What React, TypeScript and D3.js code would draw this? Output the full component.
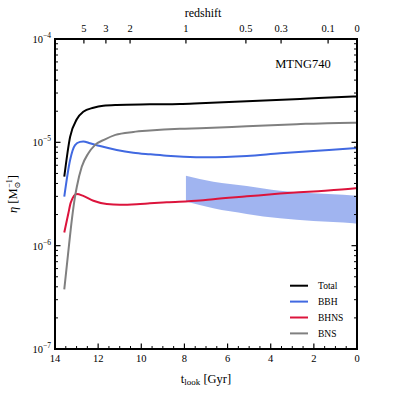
import React from 'react';
import * as d3 from 'd3';

// lookback time [Gyr] and efficiency eta [Msun^-1]
const tTotal = [13.57, 13.3, 12.99, 12.69, 12.22, 11.76, 11.14, 9.6, 8.21, 7.28, 5.11, 2.64, 0.18, 0];
const etaTotal = [4.65e-6, 1.13e-5, 1.67e-5, 1.98e-5, 2.16e-5, 2.26e-5, 2.3e-5, 2.33e-5, 2.35e-5, 2.39e-5, 2.5e-5, 2.63e-5, 2.77e-5, 2.78e-5];

const tBBH = [13.57, 13.3, 13.07, 12.84, 12.69, 12.38, 11.91, 11.14, 10.37, 9.6, 8.82, 8.05, 6.97, 5.11, 3.57, 2.02, 0.17, 0];
const etaBBH = [2.98e-6, 6.75e-6, 9.4e-6, 1.01e-5, 1.02e-5, 9.8e-6, 9.2e-6, 8.44e-6, 7.94e-6, 7.66e-6, 7.42e-6, 7.26e-6, 7.16e-6, 7.38e-6, 7.84e-6, 8.25e-6, 8.75e-6, 8.8e-6];

const tBHNS = [13.57, 13.38, 13.27, 12.99, 12.69, 12.22, 11.6, 10.99, 10.21, 9.6, 8.82, 7.28, 6.66, 5.11, 3.57, 2.02, 0.17, 0];
const etaBHNS = [1.34e-6, 2.06e-6, 2.61e-6, 3.16e-6, 3.03e-6, 2.72e-6, 2.53e-6, 2.49e-6, 2.52e-6, 2.57e-6, 2.63e-6, 2.74e-6, 2.82e-6, 3.0e-6, 3.19e-6, 3.35e-6, 3.57e-6, 3.6e-6];

const tBNS = [13.57, 13.4, 13.21, 13.07, 12.99, 12.76, 12.46, 12.15, 11.68, 11.2, 10.37, 9.6, 8.21, 7.28, 5.11, 2.79, 0.17, 0];
const etaBNS = [3.78e-7, 8.1e-7, 1.85e-6, 3.0e-6, 3.7e-6, 5.8e-6, 7.8e-6, 9.4e-6, 1.07e-5, 1.18e-5, 1.26e-5, 1.3e-5, 1.35e-5, 1.37e-5, 1.43e-5, 1.5e-5, 1.55e-5, 1.55e-5];

const tBand = [7.93, 6.66, 5.11, 3.57, 2.02, 0.17, 0];
const bandUpper = [4.75e-6, 4.16e-6, 3.78e-6, 3.4e-6, 3.21e-6, 3.05e-6, 3.03e-6];
const bandLower = [2.67e-6, 2.3e-6, 2.03e-6, 1.84e-6, 1.73e-6, 1.65e-6, 1.64e-6];

const redshiftLabels = ['5', '3', '2', '1', '0.5', '0.3', '0.1', '0'];
const redshiftLookback = [12.66, 11.64, 10.52, 7.93, 5.15, 3.52, 1.34, 0];

const xMajorTicks = [14, 12, 10, 8, 6, 4, 2, 0];
const yMajorExp = [-7, -6, -5, -4];

const seriesNames = ['Total', 'BBH', 'BHNS', 'BNS'];
const seriesColors = ['#000000', '#4169e1', '#dc143c', '#808080'];

const FONT = '"Liberation Serif", "Times New Roman", "DejaVu Serif", serif';

export default function App() {
  const left = 55, right = 357, top = 39, bottom = 349;
  const x = d3.scaleLinear().domain([14, 0]).range([left, right]);
  const y = d3.scaleLog().domain([1e-7, 1e-4]).range([bottom, top]);

  const line = d3
    .line<[number, number]>()
    .x((d) => x(d[0]))
    .y((d) => y(d[1]))
    .curve(d3.curveMonotoneX);

  const series = [
    { t: tTotal, v: etaTotal },
    { t: tBBH, v: etaBBH },
    { t: tBHNS, v: etaBHNS },
    { t: tBNS, v: etaBNS },
  ];

  const bandData = tBand.map((t, i) => ({ t, lo: bandLower[i], hi: bandUpper[i] }));
  const area = d3
    .area<{ t: number; lo: number; hi: number }>()
    .x((d) => x(d.t))
    .y0((d) => y(d.lo))
    .y1((d) => y(d.hi))
    .curve(d3.curveMonotoneX);

  const xMinor: number[] = d3.range(0, 14.01, 0.5).filter((v) => Math.abs(v % 2) > 1e-6);
  const yMinor: number[] = [];
  for (let e = -7; e < -4; e++) for (let m = 2; m <= 9; m++) yMinor.push(m * Math.pow(10, e));

  const majorLen = 5.5, minorLen = 3;

  return (
    <svg
      width={397}
      height={397}
      style={{ position: 'absolute', left: 0, top: 0, background: '#fff', fontFamily: FONT }}
    >
      <rect x={0} y={0} width={397} height={397} fill="#fff" />
      <defs>
        <clipPath id="plotclip">
          <rect x={left} y={top} width={right - left} height={bottom - top} />
        </clipPath>
      </defs>

      <g clipPath="url(#plotclip)">
        <path d={area(bandData) || ''} fill="#4169e1" fillOpacity={0.5} stroke="none" />
        {series.map((s, i) => (
          <path
            key={i}
            d={line(s.t.map((t, j) => [t, s.v[j]] as [number, number])) || ''}
            fill="none"
            stroke={seriesColors[i]}
            strokeWidth={2}
            strokeLinejoin="round"
          />
        ))}
      </g>

      {/* x ticks bottom */}
      {xMajorTicks.map((t) => (
        <g key={'xb' + t}>
          <line x1={x(t)} x2={x(t)} y1={bottom} y2={bottom - majorLen} stroke="#000" strokeWidth={1.2} />
          <text x={x(t)} y={362} fontSize={10.5} textAnchor="middle" style={{ fontFamily: FONT }}>
            {t}
          </text>
        </g>
      ))}
      {xMinor.map((t) => (
        <line key={'xm' + t} x1={x(t)} x2={x(t)} y1={bottom} y2={bottom - minorLen} stroke="#000" strokeWidth={1} />
      ))}

      {/* top redshift ticks */}
      {redshiftLookback.map((t, i) => (
        <g key={'z' + i}>
          <line x1={x(t)} x2={x(t)} y1={top} y2={top + 4.5} stroke="#000" strokeWidth={1.2} />
          <text x={x(t)} y={32} fontSize={10.5} textAnchor="middle" style={{ fontFamily: FONT }}>
            {redshiftLabels[i]}
          </text>
        </g>
      ))}
      <text x={203} y={17} fontSize={12} textAnchor="middle" style={{ fontFamily: FONT }}>
        redshift
      </text>

      {/* y ticks */}
      {yMajorExp.map((e) => {
        const yy = y(Math.pow(10, e));
        return (
          <g key={'y' + e}>
            <line x1={left} x2={left + majorLen} y1={yy} y2={yy} stroke="#000" strokeWidth={1.2} />
            <line x1={right} x2={right - majorLen} y1={yy} y2={yy} stroke="#000" strokeWidth={1.2} />
            <text x={51} y={yy + 4} fontSize={10.5} textAnchor="end" style={{ fontFamily: FONT }}>
              10
              <tspan fontSize={7.5} dy={-5}>
                {'\u2212' + Math.abs(e)}
              </tspan>
            </text>
          </g>
        );
      })}
      {yMinor.map((v, i) => (
        <g key={'ym' + i}>
          <line x1={left} x2={left + minorLen} y1={y(v)} y2={y(v)} stroke="#000" strokeWidth={1} />
          <line x1={right} x2={right - minorLen} y1={y(v)} y2={y(v)} stroke="#000" strokeWidth={1} />
        </g>
      ))}

      {/* frame */}
      <rect x={left} y={top} width={right - left} height={bottom - top} fill="none" stroke="#000" strokeWidth={2} />

      {/* axis titles */}
      <text x={206} y={383} fontSize={12.5} textAnchor="middle" style={{ fontFamily: FONT }}>
        t
        <tspan fontSize={9} dy={2}>
          look
        </tspan>
        <tspan dy={-2}> [Gyr]</tspan>
      </text>
      <text
        transform={`translate(17, ${(top + bottom) / 2}) rotate(-90)`}
        fontSize={12.5}
        textAnchor="middle"
        style={{ fontFamily: FONT }}
      >
        <tspan fontStyle="italic">η</tspan>
        <tspan> [M</tspan>
        <tspan fontSize={8} dy={3}>
          ⊙
        </tspan>
        <tspan fontSize={8} dy={-8} dx={-6}>
          {'\u22121'}
        </tspan>
        <tspan dy={5}>]</tspan>
      </text>

      <text x={303} y={68} fontSize={12.5} textAnchor="middle" style={{ fontFamily: FONT }}>
        MTNG740
      </text>

      {/* legend */}
      {seriesNames.map((n, i) => {
        const ly = 285.7 + i * 15.9;
        return (
          <g key={n}>
            <line x1={290} x2={308} y1={ly} y2={ly} stroke={seriesColors[i]} strokeWidth={2} />
            <text x={318} y={ly + 3.3} fontSize={9.5} style={{ fontFamily: FONT }}>
              {n}
            </text>
          </g>
        );
      })}
    </svg>
  );
}
